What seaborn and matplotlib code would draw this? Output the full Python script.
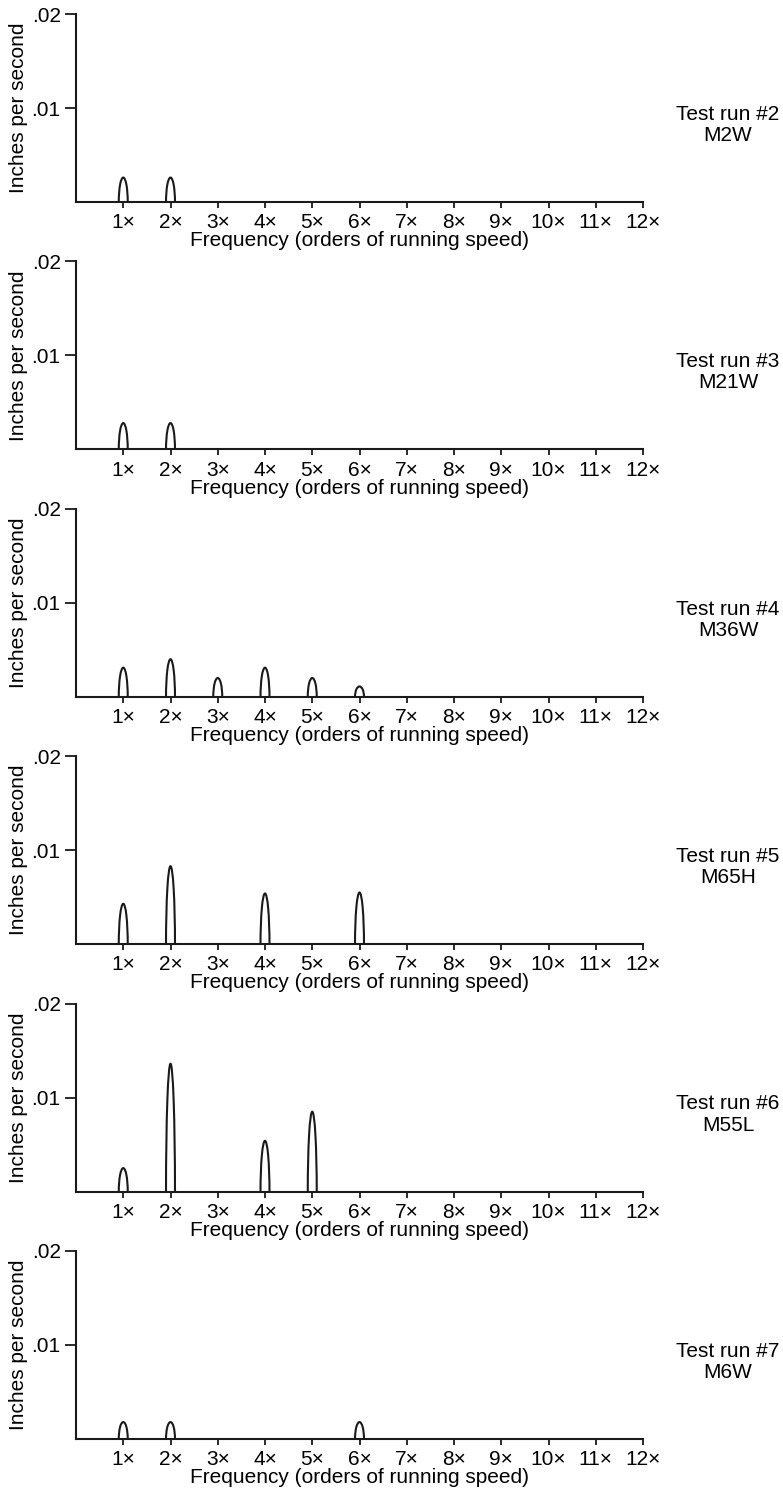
import numpy as np
import pandas as pd
import matplotlib
matplotlib.use("Agg")
import matplotlib.pyplot as plt
from matplotlib.patches import Arc
import seaborn as sns

# peak amplitude (in/s) at each running-speed order, one list per test run
orders = list(range(1, 13))
run_labels = ["Test run #2\nM2W", "Test run #3\nM21W", "Test run #4\nM36W",
              "Test run #5\nM65H", "Test run #6\nM55L", "Test run #7\nM6W"]
run2 = [0.0026, 0.0026, 0, 0, 0, 0, 0, 0, 0, 0, 0, 0]
run3 = [0.0028, 0.0028, 0, 0, 0, 0, 0, 0, 0, 0, 0, 0]
run4 = [0.0031, 0.0040, 0.0020, 0.0031, 0.0020, 0.0011, 0, 0, 0, 0, 0, 0]
run5 = [0.0043, 0.0083, 0, 0.0054, 0, 0.0055, 0, 0, 0, 0, 0, 0]
run6 = [0.0025, 0.0136, 0, 0.0054, 0.0085, 0, 0, 0, 0, 0, 0, 0]
run7 = [0.0018, 0.0018, 0, 0, 0, 0.0018, 0, 0, 0, 0, 0, 0]
tick_labels = [f"{k}\u00d7" for k in orders]

runs = [run2, run3, run4, run5, run6, run7]

sns.set_style("ticks")
plt.rcParams["font.family"] = ["Liberation Sans", "DejaVu Sans"]
plt.rcParams["text.color"] = "black"
plt.rcParams["axes.labelcolor"] = "black"
plt.rcParams["xtick.labelcolor"] = "black"
plt.rcParams["ytick.labelcolor"] = "black"
ink = "#1a1a1a"
fs = 15

W, H = 783, 1494
fig = plt.figure(figsize=(W / 100, H / 100), dpi=100)

left, right = 76, 643
for i, (lab, vals) in enumerate(zip(run_labels, runs)):
    top = 14 + i * 247.4
    h = 188
    ax = fig.add_axes([left / W, 1 - (top + h) / H, (right - left) / W, h / H])
    df = pd.DataFrame({"order": orders, "amp": vals})
    for _, r in df[df.amp > 0].iterrows():
        ax.add_patch(Arc((r.order, 0), 0.19, 2 * r.amp, theta1=0, theta2=180,
                         color=ink, lw=1.5))
    ax.set_xlim(0, 12)
    ax.set_ylim(0, 0.02)
    ax.set_xticks(orders)
    ax.set_xticklabels(tick_labels, fontsize=fs)
    ax.set_yticks([0.01, 0.02])
    ax.set_yticklabels([".01", ".02"], fontsize=fs)
    ax.tick_params(axis="x", length=4, width=1.3, color=ink, pad=4)
    ax.tick_params(axis="y", length=8, width=1.3, color=ink, pad=3)
    sns.despine(ax=ax)
    for s in ["left", "bottom"]:
        ax.spines[s].set_linewidth(1.5)
        ax.spines[s].set_color(ink)
    ax.set_xlabel("Frequency (orders of running speed)", fontsize=fs)
    ax.xaxis.set_label_coords(0.5, -0.155)
    ax.set_ylabel("Inches per second", fontsize=fs)
    ax.yaxis.set_label_coords(-0.085, 0.5)
    ax.text(1.15, 0.41, lab, transform=ax.transAxes, ha="center", va="center",
            fontsize=fs, linespacing=1.15)

fig.savefig("out.png", dpi=100)
